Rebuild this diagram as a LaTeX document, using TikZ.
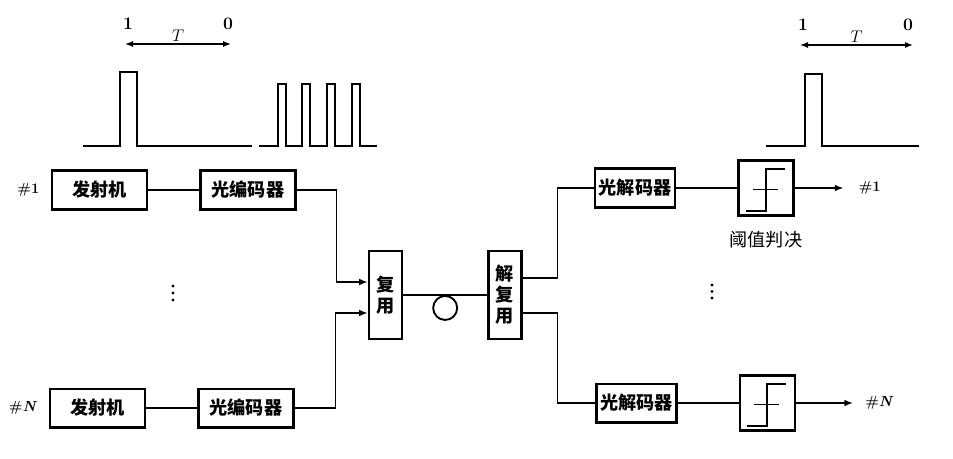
\documentclass[tikz,border=0pt]{standalone}
\usepackage{fontspec}
\newfontfamily\cjk{Noto Sans CJK SC}
\usetikzlibrary{positioning,calc,arrows.meta}

\begin{document}
\begin{tikzpicture}[x=0.3mm, y=-0.3mm, blk/.style={rectangle, draw, line width=2pt, minimum width=28.5mm, minimum height=11.6mm, inner sep=0pt, font=\cjk\bfseries\fontsize{15.5}{18}\selectfont}, dec/.style={blk, minimum width=24mm}, stack/.style={blk, minimum width=9.9mm, minimum height=26.4mm, align=center}, thr/.style={rectangle, draw, line width=2pt, minimum size=16.5mm, inner sep=0pt}, wire/.style={line width=1.3pt}, sig/.style={wire, -{Latex[length=2.6mm, width=2mm]}}, span/.style={line width=1pt, {Latex[length=2.4mm, width=1.8mm]}-{Latex[length=2.4mm, width=1.8mm]}}, tag/.style={font=\bfseries\fontsize{15}{17}\selectfont, inner sep=0pt}, chan/.style={tag, font=\bfseries\fontsize{12.5}{15}\selectfont}, node distance=15.3mm]

      \useasboundingbox (0,0) rectangle (953,458);

      \node [blk] (tx1) at (99.5,190) {发射机};

      \node [blk, right = of tx1] (enc1) {光编码器};

      \node [blk] (txN) at (97.5,408) {发射机};

      \node [blk, right = of txN] (encN) {光编码器};

      \node [chan, left = 3.4mm of tx1] (in1) {\#1};

      \node [chan, left = 3.4mm of txN] (inN) {\#\textit{N}};

      \node [stack] (mux) at (385.5,295) {复\\用};

      \node [stack, right = 25.2mm of mux] (demux) {解\\复\\用};

      \draw [wire] (mux.east) -- coordinate[midway] (mid) (demux.west);

      \node [circle, draw, line width=1.6pt, minimum size=7.2mm, inner sep=0pt, below = 0pt of mid] (coil) {};

      \node [dec] (dec1) at (635,188) {光解码器};

      \node [thr, right = 18.3mm of dec1] (th1) {};

      \node [dec] (decN) at (636.5,403) {光解码器};

      \node [thr, right = 18.3mm of decN] (thN) {};

      \node [font=\cjk\fontsize{15.5}{18}\selectfont, below = 3.2mm of th1] (cap) {阈值判决};

      \coordinate [right = 14.7mm of th1.east] (o1);

      \node [chan, right = 4.5mm of o1] (out1) {\#1};

      \coordinate [right = 17.1mm of thN.east] (oN);

      \node [chan, right = 3.6mm of oN] (outN) {\#\textit{N}};

      \path[wire] (tx1) edge (enc1);

      \path[wire] (txN) edge (encN);

      \draw[sig] (enc1.east) -- ++(40,0) |- ([yshift=3.9mm]mux.west);

      \draw[sig] (encN.east) -- ++(41,0) |- ([yshift=-5.4mm]mux.west);

      \draw[wire] ([yshift=5.1mm]demux.east) -- ++(35,0) |- (dec1.west);

      \draw[wire] ([yshift=-5.4mm]demux.east) -- ++(35,0) |- (decN.west);

      \path[wire] (dec1) edge (th1);

      \path[wire] (decN) edge (thN);

      \draw[sig] (th1) -- (o1);

      \draw[sig] (thN) -- (oN);

      \foreach \t in {th1, thN} {
        \draw[line width=1.6pt] ($(\t.center)+(-20,23)$) -- ++(20,0) -- ++(0,-42) -- ++(19,0);
        \draw[line width=1.6pt] ($(\t.center)+(-13,1.5)$) -- ++(25,0);
      }

      \draw[wire] (83,146) -- (120,146) -- (120,72) -- (137,72) -- (137,146) -- (252,146);

      \draw[wire] (259,146) foreach \p in {278,302,327,352} { -- (\p,146) -- (\p,84) -- (\p+8,84) -- (\p+8,146) } -- (377,146);

      \draw[wire] (766,146) -- (805,146) -- (805,74) -- (822,74) -- (822,146) -- (919,146);

      \coordinate (ta) at (125,44);

      \coordinate (tb) at (231,44);

      \draw[span] (ta) -- node[above=0.6mm, inner sep=0pt, font=\fontsize{15}{17}\selectfont] (tt1) {$T$} (tb);

      \node [tag, anchor=south] (one1) at (128,30) {1};

      \node [tag, anchor=south] (zero1) at (228,30) {0};

      \coordinate (tc) at (800,45);

      \coordinate (td) at (913,45);

      \draw[span] (tc) -- node[above=0.6mm, inner sep=0pt, font=\fontsize{15}{17}\selectfont] (tt2) {$T$} (td);

      \node [tag, anchor=south] (one2) at (803,31) {1};

      \node [tag, anchor=south] (zero2) at (908,31) {0};

      \foreach \y in {286,293,300} \fill (173,\y) circle (1.7);

      \foreach \y in {285,291.5,298} \fill (712,\y) circle (1.7);
    \end{tikzpicture}
\end{document}
